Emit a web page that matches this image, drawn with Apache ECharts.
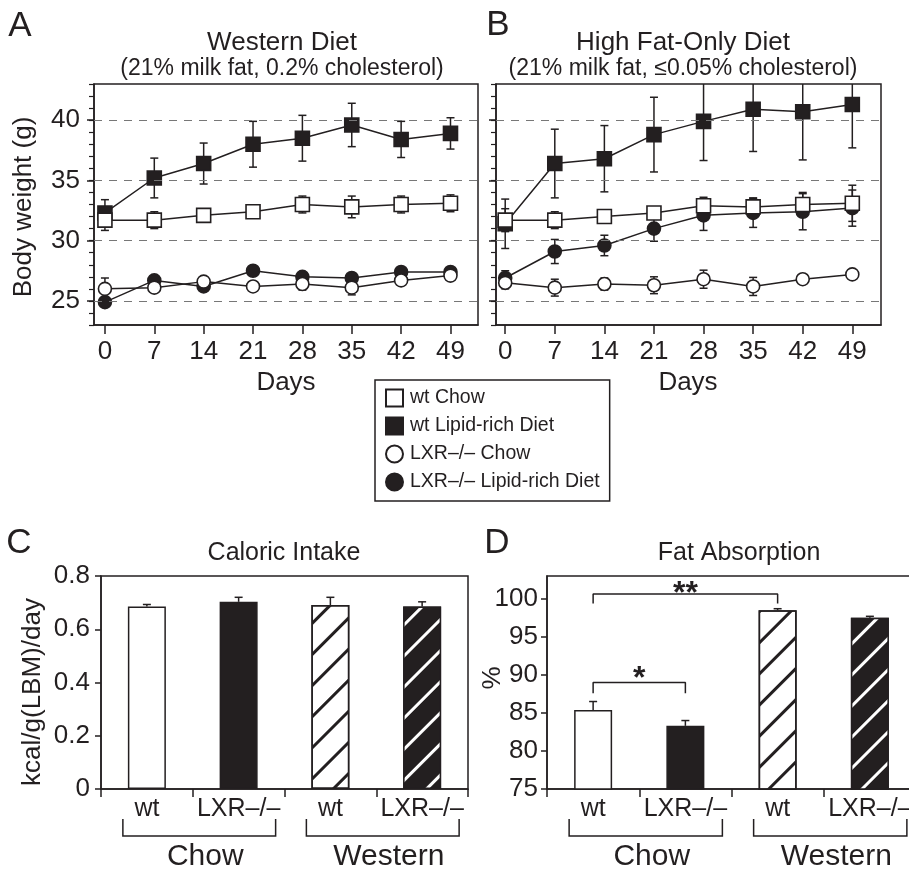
<!DOCTYPE html>
<html><head><meta charset="utf-8">
<script src="https://cdn.jsdelivr.net/npm/echarts@6/dist/echarts.min.js"></script>
<style>html,body{margin:0;padding:0;background:#fff}#c{width:909px;height:873px}</style>
</head><body><div id="c"></div>
<script>
// ---------- data ----------
const days = [0, 7, 14, 21, 28, 35, 42, 49];
const weightTicks = [25, 30, 35, 40];
const seriesNames = ['wt Chow', 'wt Lipid-rich Diet', 'LXR–/– Chow', 'LXR–/– Lipid-rich Diet'];

// Panel A – Western diet
const A_wtChow      = [31.7, 31.7, 32.1, 32.4, 33.0, 32.8, 33.0, 33.1];
const A_wtChowErr   = [0.85, 0.7, 0.3, 0.4, 0.7, 0.9, 0.7, 0.7];
const A_wtLipid     = [32.3, 35.2, 36.4, 38.0, 38.5, 39.6, 38.4, 38.9];
const A_wtLipidErr  = [1.1, 1.65, 1.7, 1.9, 1.9, 1.8, 1.5, 1.3];
const A_koChow      = [26.0, 26.1, 26.6, 26.2, 26.4, 26.1, 26.7, 27.1];
const A_koChowErr   = [0.9, 0.4, 0.3, 0.3, 0.5, 0.6, 0.3, 0.3];
const A_koLipid     = [24.9, 26.7, 26.2, 27.5, 27.0, 26.9, 27.4, 27.4];
const A_koLipidErr  = [0.3, 0.3, 0.3, 0.3, 0.3, 0.3, 0.3, 0.3];

// Panel B – High fat-only diet
const B_wtChow      = [31.7, 31.7, 32.0, 32.3, 32.9, 32.8, 33.0, 33.1];
const B_wtChowErr   = [0.95, 0.7, 0.3, 0.3, 0.7, 0.75, 1.0, 1.5];
const B_wtLipid     = [31.4, 36.4, 36.8, 38.8, 39.9, 40.9, 40.7, 41.3];
const B_wtLipidErr  = [2.05, 2.85, 2.75, 3.1, 3.25, 3.5, 4.0, 3.6];
const B_koChow      = [26.5, 26.1, 26.4, 26.3, 26.8, 26.2, 26.8, 27.2];
const B_koChowErr   = [0.5, 0.7, 0.5, 0.7, 0.75, 0.75, 0.3, 0.3];
const B_koLipid     = [26.9, 29.1, 29.6, 31.0, 32.1, 32.3, 32.4, 32.7];
const B_koLipidErr  = [0.6, 1.0, 0.85, 1.05, 1.25, 1.2, 1.5, 1.5];

// Panels C & D – bars
const barCats     = ['wt', 'LXR–/–', 'wt', 'LXR–/–'];
const dietGroups  = ['Chow', 'Western'];
const C_vals = [0.685, 0.703, 0.691, 0.685];
const C_err  = [0.008, 0.017, 0.029, 0.018];
const D_vals = [85.4, 83.3, 98.5, 97.5];
const D_err  = [1.1, 0.7, 0.2, 0.2];
const D_fatTicks = [75, 80, 85, 90, 95, 100];
// significance brackets in D: [fromBar, toBar], bracket level (%), leg bottom (%)
const sigPairs  = [[0, 1], [0, 2]];
const sigLevels = [89.0, 100.65];
const sigFeet   = [87.6, 99.4];
const sigLabels = ['*', '**'];

// ---------- styling ----------
const INK = '#231f20';
const FONT = '"Liberation Sans", Arial, Helvetica, sans-serif';
const chart = echarts.init(document.getElementById('c'), null, {renderer: 'canvas'});

const lineSty = {color: INK, width: 1.5};
function errSeries(xi, yi, vals, errs, both) {
  return {
    type: 'custom', xAxisIndex: xi, yAxisIndex: yi, z: 1, clip: true, silent: true,
    data: vals.map((v, i) => [xi < 2 ? days[i] : i, v, errs[i]]),
    renderItem: function (params, api) {
      const x = api.value(0), y = api.value(1), e = api.value(2);
      const top = api.coord([x, y + e]);
      const bot = api.coord([x, both ? y - e : y]);
      const hw = 4;
      const st = {stroke: INK, lineWidth: 1.5};
      const ch = [
        {type: 'line', shape: {x1: top[0], y1: top[1], x2: bot[0], y2: bot[1]}, style: st},
        {type: 'line', shape: {x1: top[0] - hw, y1: top[1], x2: top[0] + hw, y2: top[1]}, style: st}
      ];
      if (both) ch.push({type: 'line', shape: {x1: bot[0] - hw, y1: bot[1], x2: bot[0] + hw, y2: bot[1]}, style: st});
      return {type: 'group', children: ch};
    }
  };
}
function markerSeries(xi, yi, name, vals, symbol, filled, z) {
  return {
    type: 'line', name: name, xAxisIndex: xi, yAxisIndex: yi, z: z,
    data: vals.map((v, i) => [days[i], v]),
    symbol: symbol, symbolSize: symbol === 'rect' ? 14 : 13, showSymbol: true,
    lineStyle: lineSty,
    itemStyle: {color: filled ? INK : '#fff', borderColor: INK, borderWidth: 1.6},
    emphasis: {disabled: true}
  };
}
function dashSeries(xi, yi) {
  return {
    type: 'line', xAxisIndex: xi, yAxisIndex: yi, data: [], z: 0, silent: true,
    markLine: {
      silent: true, symbol: 'none', label: {show: false}, animation: false,
      lineStyle: {type: [8, 7], color: '#777', width: 1.2},
      data: weightTicks.map(v => ({yAxis: v}))
    }
  };
}
function panelSeries(xi, yi, P) {
  return [
    dashSeries(xi, yi),
    errSeries(xi, yi, P.wtLipid, P.wtLipidErr, true),
    errSeries(xi, yi, P.koLipid, P.koLipidErr, true),
    errSeries(xi, yi, P.wtChow, P.wtChowErr, true),
    errSeries(xi, yi, P.koChow, P.koChowErr, true),
    markerSeries(xi, yi, seriesNames[1], P.wtLipid, 'rect', true, 3),
    markerSeries(xi, yi, seriesNames[3], P.koLipid, 'circle', true, 4),
    markerSeries(xi, yi, seriesNames[0], P.wtChow, 'rect', false, 5),
    markerSeries(xi, yi, seriesNames[2], P.koChow, 'circle', false, 6)
  ];
}
const PA = {wtChow: A_wtChow, wtChowErr: A_wtChowErr, wtLipid: A_wtLipid, wtLipidErr: A_wtLipidErr,
            koChow: A_koChow, koChowErr: A_koChowErr, koLipid: A_koLipid, koLipidErr: A_koLipidErr};
const PB = {wtChow: B_wtChow, wtChowErr: B_wtChowErr, wtLipid: B_wtLipid, wtLipidErr: B_wtLipidErr,
            koChow: B_koChow, koChowErr: B_koChowErr, koLipid: B_koLipid, koLipidErr: B_koLipidErr};

const hatch = (c) => ({symbol: 'rect', symbolSize: 1, color: c, dashArrayX: [1, 0], dashArrayY: [3, 19], rotation: -Math.PI / 4});
const barStyles = [
  {color: '#fff', borderColor: INK, borderWidth: 1.5},
  {color: INK, borderColor: INK, borderWidth: 1.5},
  {color: '#fff', borderColor: INK, borderWidth: 1.5, decal: hatch(INK)},
  {color: INK, borderColor: INK, borderWidth: 1.5, decal: hatch('#fff')}
];
function barSeries(xi, yi, vals) {
  return {
    type: 'bar', xAxisIndex: xi, yAxisIndex: yi, barWidth: 38, z: 2, silent: true,
    data: vals.map((v, i) => ({value: v, itemStyle: barStyles[i]}))
  };
}

const axLine = {show: true, onZero: false, lineStyle: {color: INK, width: 1.5}};
const tickSty = {color: INK, width: 1.5};
const labSty = {color: INK, fontSize: 26, fontFamily: FONT};

function timeX(grid, min, max) {
  return {gridIndex: grid, type: 'value', min: min, max: max, axisLine: axLine,
    axisTick: {show: true, length: 9, customValues: days, lineStyle: tickSty},
    axisLabel: Object.assign({customValues: days, margin: 14}, labSty),
    splitLine: {show: false}};
}
function weightY(grid, labels) {
  return [
    {gridIndex: grid, type: 'value', position: 'left', min: 23, max: 43, axisLine: axLine,
     axisTick: {show: true, length: 7, customValues: weightTicks, lineStyle: tickSty},
     axisLabel: Object.assign({show: labels, customValues: weightTicks, margin: 14}, labSty),
     splitLine: {show: false}},
    {gridIndex: grid, type: 'value', position: 'left', offset: 0, min: 23, max: 43, interval: 1,
     axisLine: {show: false, onZero: false}, axisTick: {show: true, length: 5, lineStyle: {color: INK, width: 1.2}},
     axisLabel: {show: false}, splitLine: {show: false}}
  ];
}
const gridBox = {show: true, borderColor: INK, borderWidth: 1.5, backgroundColor: 'transparent', containLabel: false, outerBoundsMode: 'none'};
const catAxis = (grid) => ({gridIndex: grid, type: 'category', data: barCats, axisLine: axLine,
  axisTick: {show: true, length: 8, lineStyle: tickSty},
  axisLabel: Object.assign({margin: 8, interval: 0}, labSty, {fontSize: 25})});

const option = {
  animation: false,
  backgroundColor: '#fff',
  textStyle: {fontFamily: FONT, color: INK},
  grid: [
    Object.assign({left: 94, top: 84, width: 384, height: 241}, gridBox),
    Object.assign({left: 496, top: 84, width: 385, height: 241}, gridBox),
    Object.assign({left: 101, top: 576, width: 367, height: 213}, gridBox),
    Object.assign({left: 547, top: 576, width: 369, height: 213}, gridBox)
  ],
  xAxis: [
    timeX(0, -1.55, 52.9),
    timeX(1, -1.3, 53.05),
    catAxis(2),
    catAxis(3),
    {gridIndex: 3, type: 'value', min: -0.5, max: 3.5, show: false, axisLine: {onZero: false}}
  ],
  yAxis: [].concat(
    weightY(0, true),
    weightY(1, false),
    [{gridIndex: 2, type: 'value', min: 0, max: 0.8, interval: 0.2, axisLine: axLine,
      axisTick: {show: true, length: 6, lineStyle: tickSty},
      axisLabel: Object.assign({margin: 11}, labSty), splitLine: {show: false}},
     {gridIndex: 3, type: 'value', min: 75, max: 103, axisLine: axLine,
      axisTick: {show: true, length: 6, customValues: D_fatTicks, lineStyle: tickSty},
      axisLabel: Object.assign({customValues: D_fatTicks, margin: 9}, labSty), splitLine: {show: false}}]
  ),
  legend: {
    orient: 'vertical', left: 375, top: 380, selectedMode: false,
    padding: [8, 10, 9, 10], itemGap: 8, itemWidth: 17, itemHeight: 17,
    borderColor: INK, borderWidth: 1.5,
    textStyle: {fontSize: 19.5, color: INK, fontFamily: FONT, padding: [0, 0, 0, 2]},
    data: [
      {name: seriesNames[0], icon: 'rect'},
      {name: seriesNames[1], icon: 'rect'},
      {name: seriesNames[2], icon: 'circle'},
      {name: seriesNames[3], icon: 'circle'}
    ]
  },
  series: [].concat(
    panelSeries(0, 0, PA),
    panelSeries(1, 2, PB),
    [barSeries(2, 4, C_vals), errSeries(2, 4, C_vals, C_err, false),
     barSeries(3, 5, D_vals), errSeries(3, 5, D_vals, D_err, false)],
    sigPairs.map((p, k) => ({
      type: 'line', xAxisIndex: 4, yAxisIndex: 5, symbol: 'none', silent: true, z: 5,
      lineStyle: lineSty,
      data: [[p[0], sigFeet[k]], [p[0], sigLevels[k]], [p[1], sigLevels[k]], [p[1], sigFeet[k]]]
    })),
    sigPairs.map((p, k) => ({
      type: 'scatter', xAxisIndex: 4, yAxisIndex: 5, symbolSize: 1, silent: true, z: 5,
      itemStyle: {color: 'rgba(0,0,0,0)'},
      label: {show: true, position: 'inside', offset: [0, k === 0 ? -3 : 0], formatter: sigLabels[k],
              fontSize: 32, fontWeight: 'bold', color: INK, opacity: 1, fontFamily: FONT},
      data: [[(p[0] + p[1]) / 2, sigLevels[k]]]
    }))
  )
};
chart.setOption(option);

// ---------- text & group brackets ----------
function txt(x, y, text, size, rot) {
  return {type: 'text', x: x, y: y, rotation: rot || 0, silent: true,
    style: {text: text, fontSize: size, fontFamily: FONT, fill: INK,
            textAlign: 'center', textVerticalAlign: 'middle', align: 'center', verticalAlign: 'middle'}};
}
const g = [
  txt(20, 26, 'A', 35), txt(498, 25, 'B', 35), txt(19, 543, 'C', 35), txt(497, 543, 'D', 35),
  txt(282, 43, 'Western Diet', 26), txt(282, 69, '(21% milk fat, 0.2% cholesterol)', 23),
  txt(683, 43, 'High Fat-Only Diet', 26), txt(683, 69, '(21% milk fat, ≤0.05% cholesterol)', 23),
  txt(286, 383, 'Days', 26), txt(688, 383, 'Days', 26),
  txt(24, 207, 'Body weight (g)', 26, Math.PI / 2),
  txt(284, 553, 'Caloric Intake', 25), txt(739, 553, 'Fat Absorption', 25),
  txt(33, 692, 'kcal/g(LBM)/day', 26, Math.PI / 2), txt(493, 678, '%', 26, Math.PI / 2)
];
[[2, 4, 0], [3, 5, 75]].forEach(function (cfg) {
  const base = chart.convertToPixel({yAxisIndex: cfg[1]}, cfg[2]);
  dietGroups.forEach(function (name, gi) {
    const x0 = chart.convertToPixel({xAxisIndex: cfg[0]}, gi * 2) - 24;
    const x1 = chart.convertToPixel({xAxisIndex: cfg[0]}, gi * 2 + 1) + 37;
    g.push({type: 'polyline', silent: true,
      shape: {points: [[x0, base + 30], [x0, base + 47], [x1, base + 47], [x1, base + 30]]},
      style: {stroke: INK, lineWidth: 1.5, fill: null}});
    g.push(txt((x0 + x1) / 2 + 6, base + 68, name, 30));
  });
});
chart.setOption({graphic: g});
</script></body></html>
